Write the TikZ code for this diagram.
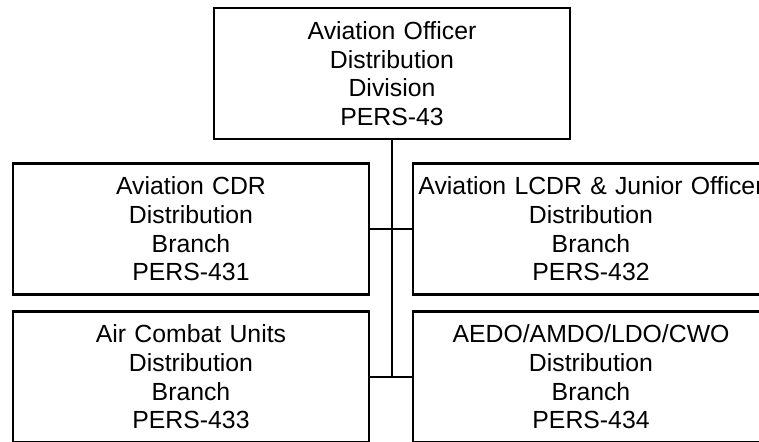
\documentclass[tikz,border=0pt]{standalone}
\usepackage{fontspec}
\setmainfont{Liberation Sans}
\usetikzlibrary{calc}
\tikzset{
  unitbox/.style={draw=black, line width=2.6pt, minimum width=356pt, minimum height=131pt,
    text width=354pt, align=center, inner sep=0pt,
    font=\fontsize{24.8}{28.7}\selectfont},
  spine/.style={black, line width=1.6pt},
  link/.style={black, line width=1.3pt}
}

\begin{document}
\begin{tikzpicture}[x=1pt,y=-1pt]
\useasboundingbox (0,0) rectangle (759,441);
\clip (0,0) rectangle (759,441);
% division
\node[unitbox] (d43) at (392,73.5) {Aviation Officer\\Distribution\\Division\\PERS-43};
% branches
\node[unitbox] (b431) at (191,229) {Aviation CDR\\Distribution\\Branch\\PERS-431};
\node[unitbox] (b432) at (591,229) {Aviation LCDR \& Junior Officer\\Distribution\\Branch\\PERS-432};
\node[unitbox] (b433) at (191,377) {Air Combat Units\\Distribution\\Branch\\PERS-433};
\node[unitbox] (b434) at (591,377) {AEDO/AMDO/LDO/CWO\\Distribution\\Branch\\PERS-434};
% connectors
\draw[spine] (d43.south) -- (d43.south |- b433.east);
\draw[link] (b431.east) -- (b432.west);
\draw[link] (b433.east) -- (b434.west);
\end{tikzpicture}
\end{document}
